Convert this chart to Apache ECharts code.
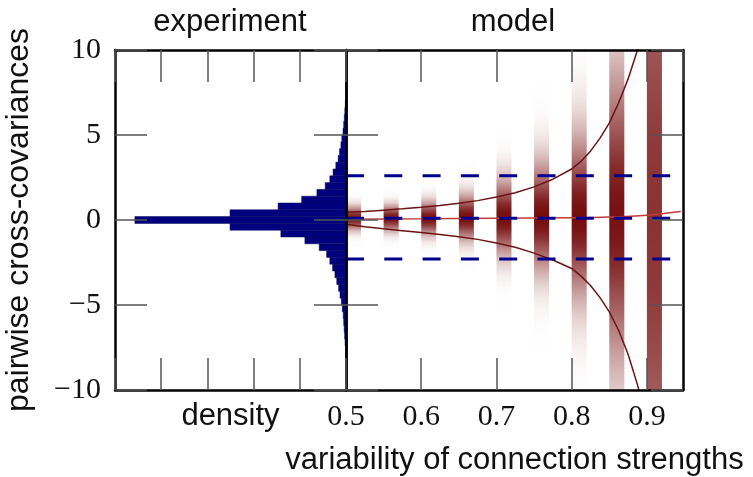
<!DOCTYPE html>
<html>
<head>
<meta charset="utf-8">
<script src="https://cdn.jsdelivr.net/npm/echarts@6/dist/echarts.min.js"></script>
<style>
html, body { margin: 0; padding: 0; background: #fff; }
#chart { width: 753px; height: 477px; }
</style>
</head>
<body>
<div id="chart"></div>
<script>
// experiment histogram: lower bin edge (bin width 0.4) and density
var histLow = [-7.4, -7.0, -6.6, -6.2, -5.8, -5.4, -5.0, -4.6, -4.2, -3.8, -3.4, -3.0, -2.6, -2.2, -1.8, -1.4, -1.0, -0.6,
               -0.2, 0.2, 0.6, 1.0, 1.4, 1.8, 2.2, 2.6, 3.0, 3.4, 3.8, 4.2, 4.6, 5.0, 5.4, 5.8, 6.2, 6.6];
var histDensity = [0.02, 0.03, 0.04, 0.05, 0.06, 0.08, 0.10, 0.13, 0.16, 0.20, 0.24, 0.29, 0.35, 0.42, 0.58, 0.89, 1.41, 2.51,
                   4.57, 2.51, 1.47, 0.96, 0.63, 0.45, 0.35, 0.28, 0.22, 0.17, 0.14, 0.11, 0.09, 0.065, 0.05, 0.037, 0.026, 0.015];
var binWidth = 0.4;

// model distributions per connection variability
var modelX = [0.51, 0.56, 0.61, 0.66, 0.71, 0.76, 0.81, 0.86, 0.91];
var modelCenter = [0.1, 0.1, 0.1, 0.15, 0.15, 0.2, 0.2, 0.25, 0.3];
var modelSpread = [0.45, 0.5, 0.65, 0.9, 1.5, 2.2, 3.3, 6, 16];
var modelPeak = [0.95, 0.95, 0.95, 0.95, 0.95, 0.95, 0.95, 0.93, 0.8];

// model mean and mean +/- std
var stdX = [0.5, 0.525, 0.55, 0.575, 0.6, 0.625, 0.65, 0.675, 0.7, 0.725, 0.75, 0.775, 0.8,
            0.8125, 0.825, 0.8375, 0.85, 0.8625, 0.875, 0.8875, 0.9];
var upperY = [0.45, 0.5, 0.58, 0.66, 0.75, 0.85, 0.98, 1.14, 1.35, 1.6, 1.95, 2.4, 3.0,
              3.45, 4.05, 4.8, 5.7, 6.9, 8.3, 10.0, 12.0];
var lowerY = [-0.25, -0.4, -0.52, -0.63, -0.74, -0.85, -0.98, -1.14, -1.35, -1.6, -1.95, -2.35, -2.85,
              -3.3, -3.85, -4.55, -5.4, -6.5, -7.9, -9.7, -11.8];
var meanX = [0.5, 0.6, 0.7, 0.8, 0.85, 0.9, 0.945];
var meanY = [0.05, 0.07, 0.1, 0.13, 0.17, 0.28, 0.5];

// experiment mean and +/- std (dashed)
var dashY = [2.6, 0.1, -2.3];
var dashX = [0.5, 0.931];

var yTicks = [-10, -5, 0, 5, 10];
var xTicks = [0.5, 0.6, 0.7, 0.8, 0.9];

var sansFont = 'Liberation Sans';
var serifFont = 'Liberation Serif';

(function(){
    var myChart = echarts.init(document.getElementById('chart'));

    function zip(xs, ys) {
        return xs.map(function(x, i){ return [x, ys[i]]; });
    }

    function frameAxis(extra) {
        var ax = {
            type: 'value',
            z: 5,
            axisLine: { show: true, onZero: false, lineStyle: { color: '#000', width: 2.5 } },
            axisTick: { show: true, inside: true, length: 32, lineStyle: { color: '#555', width: 1.5 } },
            axisLabel: { show: false },
            splitLine: { show: false }
        };
        for (var k in extra) ax[k] = extra[k];
        return ax;
    }

    var yCommon = { min: yTicks[0], max: yTicks[yTicks.length - 1], interval: 5 };

    var option = {
        backgroundColor: '#fff',
        animation: false,
        grid: [
            { left: 115, top: 50, width: 231, height: 340, containLabel: false, outerBoundsMode: 'none' },
            { left: 346, top: 50, width: 337, height: 340, containLabel: false, outerBoundsMode: 'none' }
        ],
        graphic: [
            { type: 'text', x: 230, y: 22, style: { text: 'experiment', font: '31px "Liberation Sans"', fill: '#111', align: 'center', verticalAlign: 'middle' } },
            { type: 'text', x: 513, y: 22, style: { text: 'model', font: '31px "Liberation Sans"', fill: '#111', align: 'center', verticalAlign: 'middle' } }
        ],
        xAxis: [
            frameAxis({ gridIndex: 0, position: 'bottom', min: 0, max: 5, interval: 1, inverse: true,
                name: 'density', nameLocation: 'middle', nameGap: 11,
                nameTextStyle: { fontFamily: sansFont, fontSize: 31, color: '#111' } }),
            frameAxis({ gridIndex: 0, position: 'top', min: 0, max: 5, interval: 1, inverse: true }),
            frameAxis({ gridIndex: 1, position: 'bottom', min: 0.5, max: 0.948, interval: 0.1,
                axisLabel: { show: true, margin: 12, showMaxLabel: false, fontFamily: serifFont, fontSize: 30, color: '#111',
                    formatter: function(v){ return xTicks.indexOf(Math.round(v * 10) / 10) >= 0 ? v.toFixed(1) : ''; } },
                name: 'variability of connection strengths', nameLocation: 'middle', nameGap: 55,
                nameTextStyle: { fontFamily: sansFont, fontSize: 31, color: '#111' } }),
            frameAxis({ gridIndex: 1, position: 'top', min: 0.5, max: 0.948, interval: 0.1 })
        ],
        yAxis: [
            frameAxis({ gridIndex: 0, position: 'left', min: yCommon.min, max: yCommon.max, interval: yCommon.interval,
                axisLabel: { show: true, margin: 14, fontFamily: serifFont, fontSize: 30, color: '#111',
                    formatter: function(v){ return v < 0 ? '\u2212' + Math.abs(v) : String(v); } },
                name: 'pairwise cross-covariances', nameLocation: 'middle', nameGap: 80,
                nameTextStyle: { fontFamily: sansFont, fontSize: 32, color: '#111' } }),
            frameAxis({ gridIndex: 0, position: 'right', min: yCommon.min, max: yCommon.max, interval: yCommon.interval }),
            frameAxis({ gridIndex: 1, position: 'left', min: yCommon.min, max: yCommon.max, interval: yCommon.interval }),
            frameAxis({ gridIndex: 1, position: 'right', min: yCommon.min, max: yCommon.max, interval: yCommon.interval })
        ],
        series: [
            {
                name: 'experiment',
                type: 'custom',
                xAxisIndex: 0,
                yAxisIndex: 0,
                z: 2,
                data: histLow.map(function(lo, i){ return [histDensity[i], lo, lo + binWidth]; }),
                encode: { x: 0, y: [1, 2] },
                renderItem: function(params, api) {
                    var p1 = api.coord([api.value(0), api.value(2)]);
                    var p0 = api.coord([0, api.value(1)]);
                    return {
                        type: 'rect',
                        shape: { x: p1[0], y: p1[1], width: p0[0] - p1[0], height: p0[1] - p1[1] },
                        style: { fill: '#00007f', stroke: '#00005a', lineWidth: 0.5 }
                    };
                }
            },
            {
                name: 'model',
                type: 'custom',
                xAxisIndex: 2,
                yAxisIndex: 2,
                z: 1,
                data: modelX.map(function(x, i){ return [x, modelCenter[i], modelSpread[i], modelPeak[i]]; }),
                encode: { x: 0, y: 1 },
                renderItem: function(params, api) {
                    var x = api.value(0), c = api.value(1), s = api.value(2), pk = api.value(3);
                    var top = api.coord([x, yCommon.max]);
                    var bottom = api.coord([x, yCommon.min]);
                    var w = api.size([0.02, 0])[0];
                    var stops = [];
                    for (var k = 0; k <= 60; k++) {
                        var t = k / 60;
                        var v = yCommon.max - t * (yCommon.max - yCommon.min);
                        var a = pk * Math.exp(-(v - c) * (v - c) / (2 * s * s));
                        stops.push({ offset: t, color: 'rgba(110,0,0,' + a.toFixed(3) + ')' });
                    }
                    return {
                        type: 'rect',
                        shape: { x: top[0] - w / 2, y: top[1], width: w, height: bottom[1] - top[1] },
                        style: { fill: new echarts.graphic.LinearGradient(0, 0, 0, 1, stops) }
                    };
                }
            },
            {
                name: 'mean + std',
                type: 'line',
                xAxisIndex: 2, yAxisIndex: 2, z: 3,
                data: zip(stdX, upperY),
                showSymbol: false, smooth: false, clip: true,
                lineStyle: { color: '#6a1414', width: 1.5 }
            },
            {
                name: 'mean - std',
                type: 'line',
                xAxisIndex: 2, yAxisIndex: 2, z: 3,
                data: zip(stdX, lowerY),
                showSymbol: false, smooth: false, clip: true,
                lineStyle: { color: '#6a1414', width: 1.5 }
            },
            {
                name: 'mean',
                type: 'line',
                xAxisIndex: 2, yAxisIndex: 2, z: 3,
                data: zip(meanX, meanY),
                showSymbol: false, smooth: 0.3, clip: true,
                lineStyle: { color: '#c03a3a', width: 1.5 }
            }
        ].concat(dashY.map(function(y){
            return {
                name: 'experiment ' + y,
                type: 'line',
                xAxisIndex: 2, yAxisIndex: 2, z: 4,
                data: dashX.map(function(x){ return [x, y]; }),
                showSymbol: false,
                lineStyle: { color: '#00008f', width: 3, type: [18, 20.3], cap: 'butt' }
            };
        }))
    };
    myChart.setOption(option);
    window.addEventListener('resize', function() {
        myChart.resize();
    });
})();
</script>
</body>
</html>
